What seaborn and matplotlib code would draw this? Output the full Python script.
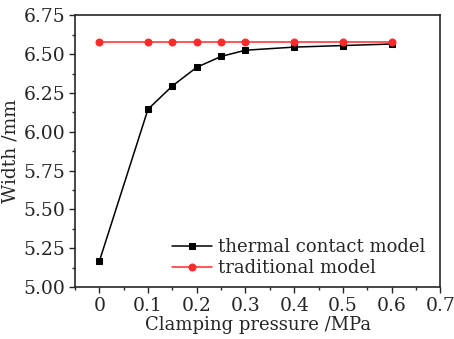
import matplotlib
matplotlib.use("Agg")
import matplotlib.pyplot as plt
import numpy as np
import pandas as pd
import seaborn as sns
from matplotlib.ticker import MultipleLocator

# clamping pressure (MPa)
pressure = [0.0, 0.1, 0.15, 0.2, 0.25, 0.3, 0.4, 0.5, 0.6]
# width (mm)
thermal_width = [5.165, 6.145, 6.295, 6.415, 6.485, 6.525, 6.545, 6.555, 6.565]
traditional_width = [6.575, 6.575, 6.575, 6.575, 6.575, 6.575, 6.575, 6.575, 6.575]

sns.set_style("ticks")
plt.rcParams["font.family"] = ["DejaVu Serif"]
plt.rcParams["mathtext.fontset"] = "dejavuserif"

fig, ax = plt.subplots(figsize=(4.54, 3.39), dpi=100)

df_thermal = pd.DataFrame({"p": pressure, "w": thermal_width})
df_trad = pd.DataFrame({"p": pressure, "w": traditional_width})

sns.lineplot(data=df_thermal, x="p", y="w", ax=ax, color="black", marker="s",
             markersize=5, markeredgecolor="black", linewidth=1.1,
             label="thermal contact model")
sns.lineplot(data=df_trad, x="p", y="w", ax=ax, color="#ff2a2a", marker="o",
             markersize=5, markeredgecolor="#ff2a2a", linewidth=1.1,
             label="traditional model")

ax.set_xlim(-0.05, 0.7)
ax.set_ylim(5.0, 6.75)
ax.xaxis.set_major_locator(MultipleLocator(0.1))
ax.xaxis.set_minor_locator(MultipleLocator(0.05))
ax.yaxis.set_major_locator(MultipleLocator(0.25))
ax.yaxis.set_minor_locator(MultipleLocator(0.125))
ax.xaxis.set_major_formatter(plt.FuncFormatter(lambda v, _: "0" if abs(v) < 1e-9 else f"{v:.1f}"))
ax.yaxis.set_major_formatter(plt.FuncFormatter(lambda v, _: f"{v:.2f}"))

ax.tick_params(axis="both", which="major", direction="out", length=4, width=1, labelsize=13.5, pad=3)
ax.tick_params(axis="both", which="minor", direction="out", length=2.5, width=1)
for s in ax.spines.values():
    s.set_linewidth(1.2)

ax.set_xlabel("Clamping pressure /MPa", fontsize=13, labelpad=1)
ax.set_ylabel("Width /mm", fontsize=13.5, labelpad=3)

ax.legend(loc="lower right", frameon=False, fontsize=13, handlelength=2.2,
          handletextpad=0.3, labelspacing=0.15, borderaxespad=0.15,
          bbox_to_anchor=(0.985, 0.0))

fig.subplots_adjust(left=0.165, right=0.97, top=0.955, bottom=0.153)
fig.savefig("out.png", dpi=100)
